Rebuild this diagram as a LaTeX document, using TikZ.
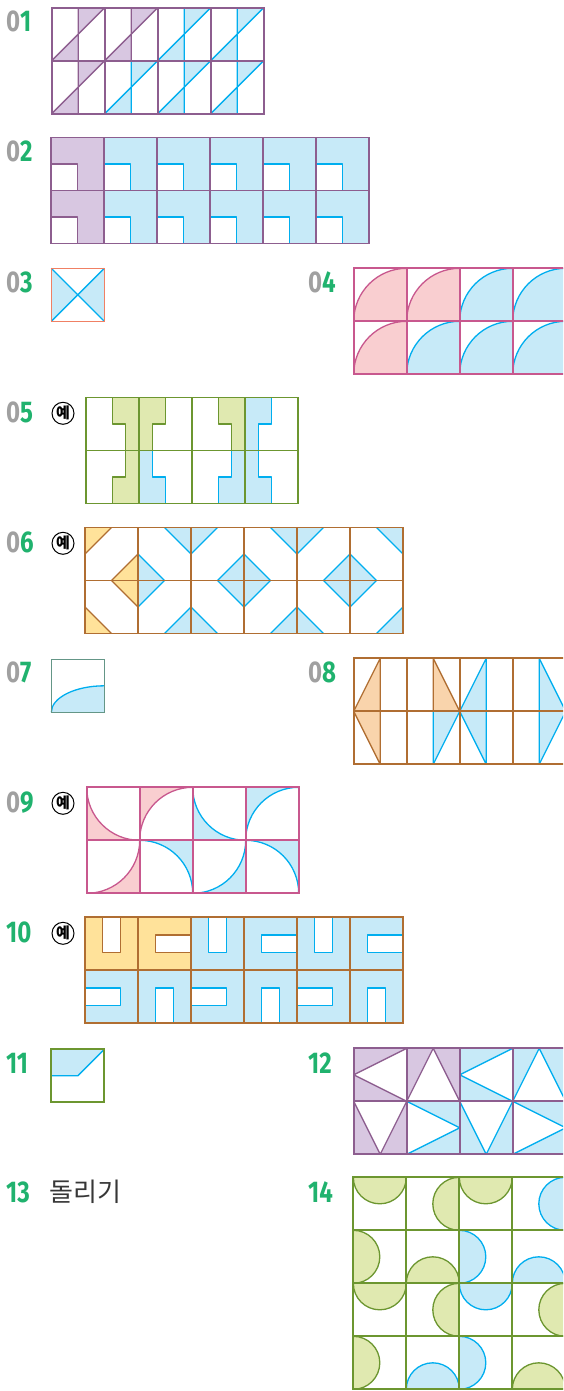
\documentclass[tikz,border=0pt]{standalone}
\usepackage{fontspec}
\newfontfamily\numfont[FakeStretch=0.8]{Fira Sans}
\newfontfamily\krfont{Noto Sans CJK KR}
\definecolor{pline}{RGB}{141,94,143}
\definecolor{pfill}{RGB}{216,199,225}
\definecolor{bline}{RGB}{0,174,239}
\definecolor{bfill}{RGB}{199,234,248}
\definecolor{coral}{RGB}{240,128,100}
\definecolor{kline}{RGB}{200,88,142}
\definecolor{kfill}{RGB}{249,206,208}
\definecolor{gline}{RGB}{108,150,48}
\definecolor{gfill}{RGB}{224,233,176}
\definecolor{nline}{RGB}{176,110,50}
\definecolor{yfill}{RGB}{255,226,154}
\definecolor{ofill}{RGB}{249,212,172}
\definecolor{tline}{RGB}{100,150,135}
\definecolor{lgray}{RGB}{160,160,160}
\definecolor{lgreen}{RGB}{32,178,110}
\definecolor{kgray}{RGB}{55,55,55}
\tikzset{
  inner/.style={line width=1.3pt,line join=round},
  gridl/.style={line width=1.8pt},
  lbl/.style={anchor=base west,inner sep=0pt,font=\numfont\bfseries\fontsize{30}{30}\selectfont},
  yebox/.style={circle,draw=black,line width=1pt,inner sep=0pt,minimum size=22pt,font=\krfont\bfseries\fontsize{15}{15}\selectfont},
  fig/.style 2 args={shift={(#1,#2)},x=53pt,y=-53pt}
}
% 01
\newcommand\tOne[4]{\begin{scope}[shift={(#1,#2)}]\fill[#3] (0.5,0)--(1,0)--(0.5,0.5)--cycle (0,1)--(0.5,1)--(0.5,0.5)--cycle;\draw[inner,#4] (0.5,0)--(0.5,1) (0,1)--(1,0);\end{scope}}
% 02
\newcommand\tTwo[4]{\begin{scope}[shift={(#1,#2)}]\fill[#3] (0,0)--(1,0)--(1,1)--(0.5,1)--(0.5,0.5)--(0,0.5)--cycle;\draw[inner,#4] (0,0.5)--(0.5,0.5)--(0.5,1);\end{scope}}
% 04
\newcommand\tFour[4]{\begin{scope}[shift={(#1,#2)}]\fill[#3] (1,1)--(0,1) arc[start angle=180,end angle=270,radius=1]--cycle;\draw[inner,#4] (0,1) arc[start angle=180,end angle=270,radius=1];\end{scope}}
% 05
\newcommand\tFa[4]{\begin{scope}[shift={(#1,#2)}]\fill[#3] (0.5,0)--(1,0)--(1,1)--(0.75,1)--(0.75,0.5)--(0.5,0.5)--cycle;\draw[inner,#4] (0.5,0)--(0.5,0.5)--(0.75,0.5)--(0.75,1);\end{scope}}
\newcommand\tFb[4]{\begin{scope}[shift={(#1,#2)}]\fill[#3] (0,0)--(0.5,0)--(0.5,0.5)--(0.25,0.5)--(0.25,1)--(0,1)--cycle;\draw[inner,#4] (0.5,0)--(0.5,0.5)--(0.25,0.5)--(0.25,1);\end{scope}}
\newcommand\tFc[4]{\begin{scope}[shift={(#1,#2)}]\fill[#3] (0.75,0)--(1,0)--(1,1)--(0.5,1)--(0.5,0.5)--(0.75,0.5)--cycle;\draw[inner,#4] (0.75,0)--(0.75,0.5)--(0.5,0.5)--(0.5,1);\end{scope}}
\newcommand\tFd[4]{\begin{scope}[shift={(#1,#2)}]\fill[#3] (0,0)--(0.25,0)--(0.25,0.5)--(0.5,0.5)--(0.5,1)--(0,1)--cycle;\draw[inner,#4] (0.25,0)--(0.25,0.5)--(0.5,0.5)--(0.5,1);\end{scope}}
% 06
\newcommand\tSa[4]{\begin{scope}[shift={(#1,#2)}]\fill[#3] (0,0)--(0.5,0)--(0,0.5)--cycle (1,0.5)--(1,1)--(0.5,1)--cycle;\draw[inner,#4] (0.5,0)--(0,0.5) (1,0.5)--(0.5,1);\end{scope}}
\newcommand\tSb[4]{\begin{scope}[shift={(#1,#2)}]\fill[#3] (0.5,0)--(1,0)--(1,0.5)--cycle (0,0.5)--(0,1)--(0.5,1)--cycle;\draw[inner,#4] (0.5,0)--(1,0.5) (0,0.5)--(0.5,1);\end{scope}}
% 08
\newcommand\tEa[4]{\begin{scope}[shift={(#1,#2)}]\fill[#3] (0.5,0)--(0,1)--(0.5,1)--cycle;\draw[inner,#4] (0.5,1)--(0.5,0)--(0,1);\end{scope}}
\newcommand\tEb[4]{\begin{scope}[shift={(#1,#2)}]\fill[#3] (0.5,0)--(1,1)--(0.5,1)--cycle;\draw[inner,#4] (0.5,1)--(0.5,0)--(1,1);\end{scope}}
\newcommand\tEc[4]{\begin{scope}[shift={(#1,#2)}]\fill[#3] (0,0)--(0.5,1)--(0.5,0)--cycle;\draw[inner,#4] (0,0)--(0.5,1)--(0.5,0);\end{scope}}
\newcommand\tEd[4]{\begin{scope}[shift={(#1,#2)}]\fill[#3] (1,0)--(0.5,1)--(0.5,0)--cycle;\draw[inner,#4] (1,0)--(0.5,1)--(0.5,0);\end{scope}}
% 09
\newcommand\tNa[4]{\begin{scope}[shift={(#1,#2)}]\fill[#3] (0,0) arc[start angle=180,end angle=90,radius=1]--(0,1)--cycle;\draw[inner,#4] (0,0) arc[start angle=180,end angle=90,radius=1];\end{scope}}
\newcommand\tNb[4]{\begin{scope}[shift={(#1,#2)}]\fill[#3] (0,1) arc[start angle=180,end angle=270,radius=1]--(0,0)--cycle;\draw[inner,#4] (0,1) arc[start angle=180,end angle=270,radius=1];\end{scope}}
\newcommand\tNc[4]{\begin{scope}[shift={(#1,#2)}]\fill[#3] (1,0) arc[start angle=0,end angle=90,radius=1]--(1,1)--cycle;\draw[inner,#4] (1,0) arc[start angle=0,end angle=90,radius=1];\end{scope}}
\newcommand\tNd[4]{\begin{scope}[shift={(#1,#2)}]\fill[#3] (0,0) arc[start angle=270,end angle=360,radius=1]--(1,0)--cycle;\draw[inner,#4] (0,0) arc[start angle=270,end angle=360,radius=1];\end{scope}}
% 10
\newcommand\tTa[4]{\begin{scope}[shift={(#1,#2)}]\fill[#3,even odd rule] (0,0) rectangle (1,1) (1/3,0) rectangle (2/3,2/3);\draw[inner,#4] (1/3,0)--(1/3,2/3)--(2/3,2/3)--(2/3,0);\end{scope}}
\newcommand\tTb[4]{\begin{scope}[shift={(#1,#2)}]\fill[#3,even odd rule] (0,0) rectangle (1,1) (1/3,1/3) rectangle (1,2/3);\draw[inner,#4] (1,1/3)--(1/3,1/3)--(1/3,2/3)--(1,2/3);\end{scope}}
\newcommand\tTc[4]{\begin{scope}[shift={(#1,#2)}]\fill[#3,even odd rule] (0,0) rectangle (1,1) (0,1/3) rectangle (2/3,2/3);\draw[inner,#4] (0,1/3)--(2/3,1/3)--(2/3,2/3)--(0,2/3);\end{scope}}
\newcommand\tTd[4]{\begin{scope}[shift={(#1,#2)}]\fill[#3,even odd rule] (0,0) rectangle (1,1) (1/3,1/3) rectangle (2/3,1);\draw[inner,#4] (1/3,1)--(1/3,1/3)--(2/3,1/3)--(2/3,1);\end{scope}}
% 12
\newcommand\tWa[4]{\begin{scope}[shift={(#1,#2)}]\fill[#3] (0,0)--(1,0)--(0,0.5)--cycle (0,0.5)--(1,1)--(0,1)--cycle;\draw[inner,#4] (1,0)--(0,0.5)--(1,1);\end{scope}}
\newcommand\tWb[4]{\begin{scope}[shift={(#1,#2)}]\fill[#3] (0,0)--(0.5,0)--(0,1)--cycle (0.5,0)--(1,0)--(1,1)--cycle;\draw[inner,#4] (0,1)--(0.5,0)--(1,1);\end{scope}}
\newcommand\tWc[4]{\begin{scope}[shift={(#1,#2)}]\fill[#3] (0,0)--(0.5,1)--(0,1)--cycle (1,0)--(1,1)--(0.5,1)--cycle;\draw[inner,#4] (0,0)--(0.5,1)--(1,0);\end{scope}}
\newcommand\tWd[4]{\begin{scope}[shift={(#1,#2)}]\fill[#3] (0,0)--(1,0)--(1,0.5)--cycle (1,0.5)--(1,1)--(0,1)--cycle;\draw[inner,#4] (0,0)--(1,0.5)--(0,1);\end{scope}}
% 14
\newcommand\tHt[4]{\begin{scope}[shift={(#1,#2)}]\fill[#3] (0,0) arc[start angle=180,end angle=0,radius=0.5]--cycle;\draw[inner,#4] (0,0) arc[start angle=180,end angle=0,radius=0.5];\end{scope}}
\newcommand\tHr[4]{\begin{scope}[shift={(#1,#2)}]\fill[#3] (1,0) arc[start angle=270,end angle=90,radius=0.5]--cycle;\draw[inner,#4] (1,0) arc[start angle=270,end angle=90,radius=0.5];\end{scope}}
\newcommand\tHl[4]{\begin{scope}[shift={(#1,#2)}]\fill[#3] (0,0) arc[start angle=-90,end angle=90,radius=0.5]--cycle;\draw[inner,#4] (0,0) arc[start angle=-90,end angle=90,radius=0.5];\end{scope}}
\newcommand\tHb[4]{\begin{scope}[shift={(#1,#2)}]\fill[#3] (0,1) arc[start angle=180,end angle=360,radius=0.5]--cycle;\draw[inner,#4] (0,1) arc[start angle=180,end angle=360,radius=0.5];\end{scope}}
\begin{document}
\begin{tikzpicture}[x=1pt,y=-1pt]
\useasboundingbox (0,0) rectangle (563,1391);
\clip (0,0) rectangle (563,1391);
% labels
\node[lbl] (l01) at (6,32) {\textcolor{lgray}{0}\textcolor{lgreen}{1}};
\node[lbl] (l02) at (6,162) {\textcolor{lgray}{0}\textcolor{lgreen}{2}};
\node[lbl] (l03) at (6,292.3) {\textcolor{lgray}{0}\textcolor{lgreen}{3}};
\node[lbl] (l04) at (308,292.3) {\textcolor{lgray}{0}\textcolor{lgreen}{4}};
\node[lbl] (l05) at (6,422) {\textcolor{lgray}{0}\textcolor{lgreen}{5}};
\node[lbl] (l06) at (6,552) {\textcolor{lgray}{0}\textcolor{lgreen}{6}};
\node[lbl] (l07) at (6,682.5) {\textcolor{lgray}{0}\textcolor{lgreen}{7}};
\node[lbl] (l08) at (308,682.5) {\textcolor{lgray}{0}\textcolor{lgreen}{8}};
\node[lbl] (l09) at (6,812) {\textcolor{lgray}{0}\textcolor{lgreen}{9}};
\node[lbl] (l10) at (6,942) {\textcolor{lgreen}{10}};
\node[lbl] (l11) at (6,1073) {\textcolor{lgreen}{11}};
\node[lbl] (l12) at (308,1073) {\textcolor{lgreen}{12}};
\node[lbl] (l13) at (6,1202) {\textcolor{lgreen}{13}};
\node[lbl] (l14) at (308,1202) {\textcolor{lgreen}{14}};
\node[anchor=base west,inner sep=0pt,text=kgray,font=\krfont\fontsize{26}{26}\selectfont] (t13) at (49,1201) {돌리기};
\node[yebox] (y05) at (63,413.3) {예};
\node[yebox] (y06) at (63,543.3) {예};
\node[yebox] (y09) at (63,803.3) {예};
\node[yebox] (y10) at (63,933.3) {예};
% 01
\begin{scope}[fig={51.7}{7.7}]
\tOne{0}{0}{pfill}{pline}\tOne{1}{0}{pfill}{pline}\tOne{2}{0}{bfill}{bline}\tOne{3}{0}{bfill}{bline}
\tOne{0}{1}{pfill}{pline}\tOne{1}{1}{bfill}{bline}\tOne{2}{1}{bfill}{bline}\tOne{3}{1}{bfill}{bline}
\draw[gridl,pline] (0,0) rectangle (4,2) (1,0)--(1,2) (2,0)--(2,2) (3,0)--(3,2) (0,1)--(4,1);
\end{scope}
% 02
\begin{scope}[fig={50.7}{137.5}]
\tTwo{0}{0}{pfill}{pline}\tTwo{0}{1}{pfill}{pline}
\foreach \c in {1,...,5}{\tTwo{\c}{0}{bfill}{bline}\tTwo{\c}{1}{bfill}{bline}}
\draw[gridl,pline] (0,0) rectangle (6,2) (0,1)--(6,1);
\foreach \c in {1,...,5}{\draw[gridl,pline] (\c,0)--(\c,2);}
\end{scope}
% 03
\begin{scope}[fig={51.3}{268.3}]
\fill[bfill] (0,0)--(0.5,0.5)--(0,1)--cycle (1,0)--(0.5,0.5)--(1,1)--cycle;
\draw[inner,bline] (0,0)--(1,1) (1,0)--(0,1);
\draw[line width=1.4pt,coral] (0,0) rectangle (1,1);
\end{scope}
% 04
\begin{scope}[fig={353.7}{268.3}]
\tFour{0}{0}{kfill}{kline}\tFour{1}{0}{kfill}{kline}\tFour{2}{0}{bfill}{bline}\tFour{3}{0}{bfill}{bline}
\tFour{0}{1}{kfill}{kline}\tFour{1}{1}{bfill}{bline}\tFour{2}{1}{bfill}{bline}\tFour{3}{1}{bfill}{bline}
\draw[gridl,kline] (0,0) rectangle (4,2) (1,0)--(1,2) (2,0)--(2,2) (3,0)--(3,2) (0,1)--(4,1);
\end{scope}
% 05
\begin{scope}[fig={86}{397.5}]
\tFa{0}{0}{gfill}{gline}\tFb{1}{0}{gfill}{gline}\tFa{2}{0}{gfill}{gline}\tFb{3}{0}{bfill}{bline}
\tFc{0}{1}{gfill}{gline}\tFd{1}{1}{bfill}{bline}\tFc{2}{1}{bfill}{bline}\tFd{3}{1}{bfill}{bline}
\draw[gridl,gline] (0,0) rectangle (4,2) (1,0)--(1,2) (2,0)--(2,2) (3,0)--(3,2) (0,1)--(4,1);
\end{scope}
% 06
\begin{scope}[fig={85}{527.5}]
\tSa{0}{0}{yfill}{nline}\tSb{0}{1}{yfill}{nline}
\tSb{1}{0}{bfill}{bline}\tSa{1}{1}{bfill}{bline}
\tSa{2}{0}{bfill}{bline}\tSb{2}{1}{bfill}{bline}
\tSb{3}{0}{bfill}{bline}\tSa{3}{1}{bfill}{bline}
\tSa{4}{0}{bfill}{bline}\tSb{4}{1}{bfill}{bline}
\tSb{5}{0}{bfill}{bline}\tSa{5}{1}{bfill}{bline}
\draw[gridl,nline] (0,0) rectangle (6,2) (0,1)--(6,1);
\foreach \c in {1,...,5}{\draw[gridl,nline] (\c,0)--(\c,2);}
\end{scope}
% 07
\begin{scope}[fig={51.3}{659.3}]
\fill[bfill] (1,1)--(0,1) arc[start angle=180,end angle=270,x radius=1,y radius=0.5]--cycle;
\draw[inner,bline] (0,1) arc[start angle=180,end angle=270,x radius=1,y radius=0.5];
\draw[line width=1.4pt,tline] (0,0) rectangle (1,1);
\end{scope}
% 08
\begin{scope}[fig={353.7}{658.3}]
\tEa{0}{0}{ofill}{nline}\tEb{1}{0}{ofill}{nline}\tEa{2}{0}{bfill}{bline}\tEb{3}{0}{bfill}{bline}
\tEc{0}{1}{ofill}{nline}\tEd{1}{1}{bfill}{bline}\tEc{2}{1}{bfill}{bline}\tEd{3}{1}{bfill}{bline}
\draw[gridl,nline] (0,0) rectangle (4,2) (1,0)--(1,2) (2,0)--(2,2) (3,0)--(3,2) (0,1)--(4,1);
\end{scope}
% 09
\begin{scope}[fig={86.7}{787.3}]
\tNa{0}{0}{kfill}{kline}\tNb{1}{0}{kfill}{kline}\tNa{2}{0}{bfill}{bline}\tNb{3}{0}{bfill}{bline}
\tNc{0}{1}{kfill}{kline}\tNd{1}{1}{bfill}{bline}\tNc{2}{1}{bfill}{bline}\tNd{3}{1}{bfill}{bline}
\draw[gridl,kline] (0,0) rectangle (4,2) (1,0)--(1,2) (2,0)--(2,2) (3,0)--(3,2) (0,1)--(4,1);
\end{scope}
% 10
\begin{scope}[fig={85}{917.3}]
\tTa{0}{0}{yfill}{nline}\tTb{1}{0}{yfill}{nline}
\tTa{2}{0}{bfill}{bline}\tTb{3}{0}{bfill}{bline}\tTa{4}{0}{bfill}{bline}\tTb{5}{0}{bfill}{bline}
\tTc{0}{1}{bfill}{bline}\tTd{1}{1}{bfill}{bline}\tTc{2}{1}{bfill}{bline}\tTd{3}{1}{bfill}{bline}\tTc{4}{1}{bfill}{bline}\tTd{5}{1}{bfill}{bline}
\draw[gridl,nline] (0,0) rectangle (6,2) (0,1)--(6,1);
\foreach \c in {1,...,5}{\draw[gridl,nline] (\c,0)--(\c,2);}
\end{scope}
% 11
\begin{scope}[fig={51.3}{1049.3}]
\fill[bfill] (0,0)--(1,0)--(0.5,0.5)--(0,0.5)--cycle;
\draw[inner,bline] (0,0.5)--(0.5,0.5)--(1,0);
\draw[line width=2pt,gline] (0,0) rectangle (1,1);
\end{scope}
% 12
\begin{scope}[fig={353.7}{1048.3}]
\tWa{0}{0}{pfill}{pline}\tWb{1}{0}{pfill}{pline}\tWa{2}{0}{bfill}{bline}\tWb{3}{0}{bfill}{bline}
\tWc{0}{1}{pfill}{pline}\tWd{1}{1}{bfill}{bline}\tWc{2}{1}{bfill}{bline}\tWd{3}{1}{bfill}{bline}
\draw[gridl,pline] (0,0) rectangle (4,2) (1,0)--(1,2) (2,0)--(2,2) (3,0)--(3,2) (0,1)--(4,1);
\end{scope}
% 14
\begin{scope}[fig={353.3}{1177.3}]
\tHt{0}{0}{gfill}{gline}\tHr{1}{0}{gfill}{gline}\tHt{2}{0}{gfill}{gline}\tHr{3}{0}{bfill}{bline}
\tHl{0}{1}{gfill}{gline}\tHb{1}{1}{gfill}{gline}\tHl{2}{1}{bfill}{bline}\tHb{3}{1}{bfill}{bline}
\tHt{0}{2}{gfill}{gline}\tHr{1}{2}{gfill}{gline}\tHt{2}{2}{bfill}{bline}\tHr{3}{2}{gfill}{gline}
\tHl{0}{3}{gfill}{gline}\tHb{1}{3}{bfill}{bline}\tHl{2}{3}{bfill}{bline}\tHb{3}{3}{gfill}{gline}
\draw[gridl,gline] (0,0) rectangle (4,4) (1,0)--(1,4) (2,0)--(2,4) (3,0)--(3,4) (0,1)--(4,1) (0,2)--(4,2) (0,3)--(4,3);
\end{scope}
\end{tikzpicture}
\end{document}
